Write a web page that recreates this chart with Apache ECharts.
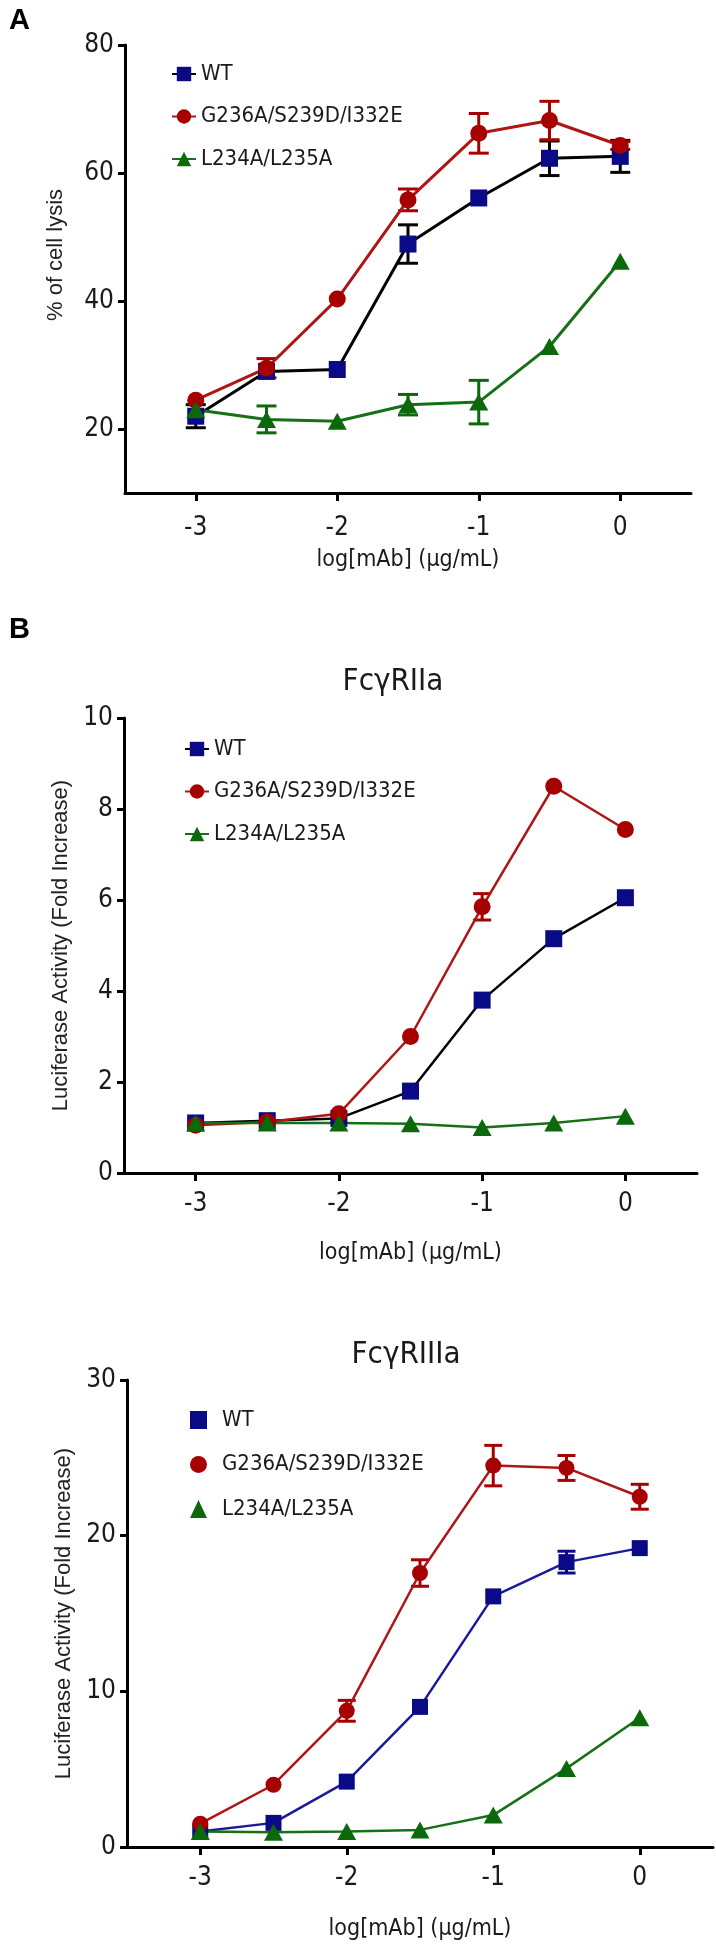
<!DOCTYPE html>
<html><head><meta charset="utf-8">
<script src="https://cdn.jsdelivr.net/npm/echarts@6/dist/echarts.min.js"></script>
<style>html,body{margin:0;padding:0;background:#fff}#c{width:716px;height:1951px}</style>
</head><body><div id="c"></div>
<script>
// ---------- data ----------
const xVals = [-3, -2.5, -2, -1.5, -1, -0.5, 0];
const xTicks = [-3, -2, -1, 0];
const seriesNames = ['WT', 'G236A/S239D/I332E', 'L234A/L235A'];
// Panel A: % of cell lysis
const aWT = [22.0, 29.0, 29.3, 48.9, 56.1, 62.3, 62.6];
const aWTerr = [1.8, 0, 0, 3.0, 0, 2.7, 2.5];
const aG = [24.5, 29.5, 40.3, 55.8, 66.2, 68.2, 64.3];
const aGerr = [0, 1.5, 0, 1.7, 3.1, 3.0, 0.6];
const aL = [23.0, 21.5, 21.2, 23.8, 24.2, 32.9, 46.2];
const aLerr = [0, 2.1, 0, 1.6, 3.4, 0, 0];
const aYTicks = [20, 40, 60, 80];
// Panel B, FcγRIIa
const b1WT = [1.1, 1.15, 1.2, 1.8, 3.8, 5.15, 6.05];
const b1G = [1.05, 1.12, 1.3, 3.0, 5.85, 8.5, 7.55];
const b1Gerr = [0, 0, 0, 0, 0.29, 0, 0];
const b1L = [1.1, 1.1, 1.1, 1.08, 1.0, 1.1, 1.25];
const b1YTicks = [0, 2, 4, 6, 8, 10];
// Panel B, FcγRIIIa
const b2WT = [1.0, 1.55, 4.2, 9.0, 16.1, 18.3, 19.2];
const b2WTerr = [0, 0, 0, 0, 0, 0.7, 0];
const b2G = [1.5, 4.0, 8.75, 17.6, 24.5, 24.35, 22.5];
const b2Gerr = [0, 0, 0.67, 0.85, 1.3, 0.8, 0.8];
const b2L = [1.0, 0.95, 1.0, 1.1, 2.05, 5.05, 8.3];
const b2YTicks = [0, 10, 20, 30];

// ---------- styles ----------
const NARROW = "'Liberation Sans Narrow','Arial Narrow','DejaVu Sans Condensed',sans-serif";
const REG = "'Liberation Sans',Arial,Helvetica,sans-serif";
const NAVY = '#0a0a86', RED = '#a60000', GREEN = '#0b690b';
const RED_L = '#b01515', GREEN_L = '#167016';

const pairs = (ys) => xVals.map((x, i) => [x, ys[i]]);
const triples = (ys, es) => xVals.map((x, i) => [x, ys[i], es[i]]);

function errRender(capHalf, lw) {
  return function (params, api) {
    const x = api.value(0), y = api.value(1), e = api.value(2);
    if (!e) return null;
    const t = api.coord([x, y + e]), b = api.coord([x, y - e]);
    const style = { stroke: api.visual('color'), lineWidth: lw };
    return { type: 'group', children: [
      { type: 'line', shape: { x1: t[0], y1: t[1], x2: b[0], y2: b[1] }, style },
      { type: 'line', shape: { x1: t[0] - capHalf, y1: t[1], x2: t[0] + capHalf, y2: t[1] }, style },
      { type: 'line', shape: { x1: b[0] - capHalf, y1: b[1], x2: b[0] + capHalf, y2: b[1] }, style }
    ]};
  };
}

function mkX(grid, gap, margin) {
  return {
    type: 'value', gridIndex: grid, min: -3.5, max: 0.5,
    name: 'log[mAb] (μg/mL)', nameLocation: 'middle', nameGap: gap,
    nameTextStyle: { fontFamily: NARROW, fontSize: 23, color: '#1a1a1a' },
    axisLine: { onZero: false, lineStyle: { color: '#000', width: 3 } },
    axisTick: { customValues: xTicks, length: 8, lineStyle: { color: '#000', width: 3 } },
    axisLabel: { customValues: xTicks, formatter: v => String(v), fontFamily: NARROW, fontSize: 26, color: '#1a1a1a', margin },
    splitLine: { show: false }
  };
}
function mkY(grid, min, max, ticks, name, gap, pad) {
  return {
    type: 'value', gridIndex: grid, min, max,
    name, nameLocation: 'middle', nameGap: gap, nameRotate: 90,
    nameTextStyle: { fontFamily: REG, fontSize: 22, color: '#222', padding: pad },
    axisLine: { onZero: false, lineStyle: { color: '#000', width: 3 } },
    axisTick: { customValues: ticks, length: 7, lineStyle: { color: '#000', width: 3 } },
    axisLabel: { customValues: ticks, fontFamily: NARROW, fontSize: 26, color: '#1a1a1a', margin: 11 },
    splitLine: { show: false }
  };
}
function lineS(name, grid, data, sym, size, fill, lineColor, lw) {
  return {
    type: 'line', name, xAxisIndex: grid, yAxisIndex: grid, data: pairs(data),
    symbol: sym, symbolSize: size, showSymbol: true, z: 3,
    itemStyle: { color: fill, opacity: 1 },
    lineStyle: { color: lineColor, width: lw },
    emphasis: { disabled: true }, animation: false
  };
}
function errS(grid, data, errs, color, cap, lw) {
  return {
    type: 'custom', xAxisIndex: grid, yAxisIndex: grid, data: triples(data, errs),
    renderItem: errRender(cap, lw), itemStyle: { color }, z: 2, animation: false, silent: true,
    encode: { x: 0, y: [1] }
  };
}
function legend(left, top, gap, iw, extra) {
  return Object.assign({
    orient: 'vertical', left, top, itemGap: gap, itemWidth: iw, itemHeight: 18,
    selectedMode: false, data: seriesNames.slice(),
    textStyle: { fontFamily: NARROW, fontSize: 22, color: '#1a1a1a', lineHeight: 24 }
  }, extra || {});
}

const TRI = 'triangle';
const option = {
  backgroundColor: '#fff',
  animation: false,
  title: [
    { text: 'A', left: 4, top: 1, textStyle: { fontFamily: REG, fontWeight: 'bold', fontSize: 29, color: '#000' } },
    { text: 'B', left: 4, top: 610, textStyle: { fontFamily: REG, fontWeight: 'bold', fontSize: 29, color: '#000' } },
    { text: 'FcγRIIa', left: 388, top: 661, textAlign: 'center', textStyle: { fontFamily: NARROW, fontWeight: 'normal', fontSize: 31, color: '#1a1a1a' } },
    { text: 'FcγRIIIa', left: 401, top: 1334, textAlign: 'center', textStyle: { fontFamily: NARROW, fontWeight: 'normal', fontSize: 31, color: '#1a1a1a' } }
  ],
  legend: [
    legend(166, 57, 18.5, 24),
    legend(179, 732, 18.5, 24),
    legend(185, 1403, 20.5, 17, {
      data: [
        { name: 'WT', icon: 'rect', itemStyle: { color: NAVY } },
        { name: 'G236A/S239D/I332E', icon: 'circle', itemStyle: { color: RED } },
        { name: 'L234A/L235A', icon: 'triangle', itemStyle: { color: GREEN } }
      ],
      textStyle: { fontFamily: NARROW, fontSize: 22, color: '#1a1a1a', lineHeight: 24, padding: [0, 0, 0, 10] }
    })
  ],
  grid: [
    { left: 125, top: 45, width: 566, height: 448 },
    { left: 124, top: 718, width: 573, height: 455 },
    { left: 127, top: 1380, width: 586, height: 467 }
  ],
  xAxis: [mkX(0, 56, 22), mkX(1, 69, 18), mkX(2, 71, 18)],
  yAxis: [
    mkY(0, 10, 80, aYTicks, '% of cell lysis', 58, [0, 0, 0, 28]),
    mkY(1, 0, 10, b1YTicks, 'Luciferase Activity (Fold Increase)', 47, [0, 0, 0, 0]),
    mkY(2, 0, 30, b2YTicks, 'Luciferase Activity (Fold Increase)', 51, [0, 0, 0, 0])
  ],
  series: [
    // Panel A
    errS(0, aWT, aWTerr, '#000', 10, 3),
    errS(0, aG, aGerr, RED, 10, 3),
    errS(0, aL, aLerr, GREEN, 10, 3),
    lineS('WT', 0, aWT, 'rect', 17, NAVY, '#000', 3),
    lineS('G236A/S239D/I332E', 0, aG, 'circle', 17, RED, RED_L, 3),
    lineS('L234A/L235A', 0, aL, TRI, [19, 17], GREEN, GREEN_L, 3),
    // Panel B FcγRIIa
    errS(1, b1G, b1Gerr, RED, 9, 3),
    lineS('WT', 1, b1WT, 'rect', 17, NAVY, '#000', 2.5),
    lineS('G236A/S239D/I332E', 1, b1G, 'circle', 17, RED, RED_L, 2.5),
    lineS('L234A/L235A', 1, b1L, TRI, [19, 17], GREEN, GREEN_L, 2.5),
    // Panel B FcγRIIIa
    errS(2, b2WT, b2WTerr, NAVY, 9, 3),
    errS(2, b2G, b2Gerr, RED, 9, 3),
    lineS('WT', 2, b2WT, 'rect', 16, NAVY, '#1a1a9a', 2.5),
    lineS('G236A/S239D/I332E', 2, b2G, 'circle', 16, RED, RED_L, 2.5),
    lineS('L234A/L235A', 2, b2L, TRI, [19, 17], GREEN, GREEN_L, 2.5)
  ]
};
const chart = echarts.init(document.getElementById('c'), null, { renderer: 'canvas' });
chart.setOption(option);
</script>
</body></html>
